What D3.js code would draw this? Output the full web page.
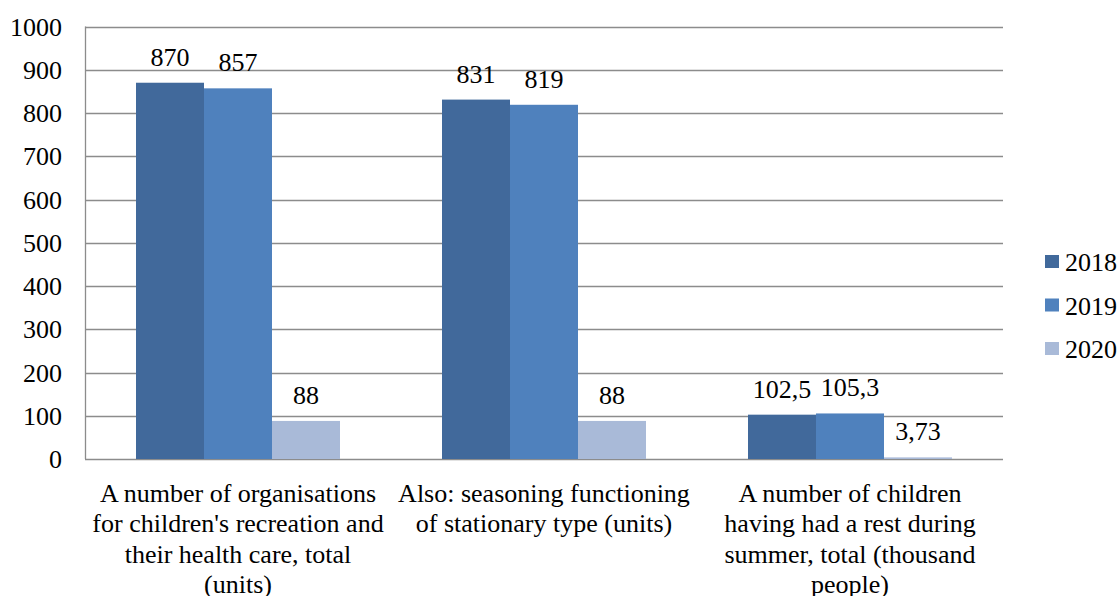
<!DOCTYPE html>
<html>
<head>
<meta charset="utf-8">
<script src="https://cdn.jsdelivr.net/npm/d3@7"></script>
</head>
<body style="margin:0">
<script>
var categories = [
	["A number of organisations", "for children's recreation and", "their health care, total", "(units)"],
	["Also: seasoning functioning", "of stationary type (units)"],
	["A number of children", "having had a rest during", "summer, total (thousand", "people)"]
];
var years = ["2018", "2019", "2020"];
var values2018 = [870, 831, 102.5];
var values2019 = [857, 819, 105.3];
var values2020 = [88, 88, 3.73];
var labels2018 = ["870", "831", "102,5"];
var labels2019 = ["857", "819", "105,3"];
var labels2020 = ["88", "88", "3,73"];
var yTicks = [0, 100, 200, 300, 400, 500, 600, 700, 800, 900, 1000];

var colors = ["#41699B", "#4F81BD", "#A9BAD8"];
var W = 1119, H = 596;
var plot = {left: 85, right: 1003, top: 26.5, bottom: 459};

var svg = d3.select("body").append("svg")
	.attr("width", W).attr("height", H);

function label(sel){
	return sel.attr("font-family", "Times New Roman").attr("font-size", 26);
}

var x = d3.scaleBand().domain(d3.range(categories.length))
	.range([plot.left, plot.right]);
// outer padding puts bars ~51px from category edges
var xs = d3.scaleBand().domain(years)
	.range([0, x.bandwidth()]).paddingOuter(0.75).paddingInner(0);
var y = d3.scaleLinear().domain([0, 1000]).range([plot.bottom, plot.top]);

// gridlines
svg.append("g").selectAll("line").data(yTicks).enter().append("line")
	.attr("x1", plot.left).attr("x2", plot.right)
	.attr("y1", function(d){ return Math.round(y(d)) + 0.5; })
	.attr("y2", function(d){ return Math.round(y(d)) + 0.5; })
	.attr("stroke", "#8c8c8c").attr("stroke-width", 1.3);

// left axis line
svg.append("line")
	.attr("x1", plot.left + 0.5).attr("x2", plot.left + 0.5)
	.attr("y1", plot.top).attr("y2", plot.bottom)
	.attr("stroke", "#8c8c8c").attr("stroke-width", 1.3);

// y tick labels
svg.append("g").selectAll("text").data(yTicks).enter().append("text")
	.call(label)
	.attr("x", 62).attr("y", function(d){ return y(d) + 9; })
	.attr("text-anchor", "end")
	.text(function(d){ return d; });

var series = [
	{year: years[0], values: values2018, labels: labels2018},
	{year: years[1], values: values2019, labels: labels2019},
	{year: years[2], values: values2020, labels: labels2020}
];

var groups = svg.append("g").selectAll("g").data(series).enter().append("g");

groups.selectAll("rect").data(function(s, si){
		return s.values.map(function(v, i){ return {cat: i, v: v, year: s.year, c: colors[si]}; });
	}).enter().append("rect")
	.attr("x", function(d){ return x(d.cat) + xs(d.year); })
	.attr("width", xs.bandwidth())
	.attr("y", function(d){ return y(d.v); })
	.attr("height", function(d){ return y(0) - y(d.v); })
	.attr("fill", function(d){ return d.c; });

groups.selectAll("text").data(function(s){
		return s.values.map(function(v, i){ return {cat: i, v: v, year: s.year, label: s.labels[i]}; });
	}).enter().append("text")
	.call(label)
	.attr("x", function(d){ return x(d.cat) + xs(d.year) + xs.bandwidth() / 2; })
	.attr("y", function(d){ return y(d.v) - 17; })
	.attr("text-anchor", "middle")
	.text(function(d){ return d.label; });

// category labels, one text per line
categories.forEach(function(lines, ci){
	svg.append("g").selectAll("text").data(lines).enter().append("text")
		.call(label)
		.attr("text-anchor", "middle")
		.attr("x", x(ci) + x.bandwidth() / 2)
		.attr("y", function(d, i){ return 502 + i * 30.3; })
		.text(function(d){ return d; });
});

// legend
var legend = svg.append("g").selectAll("g").data(years).enter().append("g")
	.attr("transform", function(d, i){ return "translate(1045," + (262 + i * 43.5) + ")"; });
legend.append("rect")
	.attr("x", 0).attr("y", -7).attr("width", 14).attr("height", 13)
	.attr("fill", function(d, i){ return colors[i]; });
legend.append("text")
	.call(label)
	.attr("x", 20).attr("y", 9)
	.text(function(d){ return d; });
</script>
</body>
</html>
